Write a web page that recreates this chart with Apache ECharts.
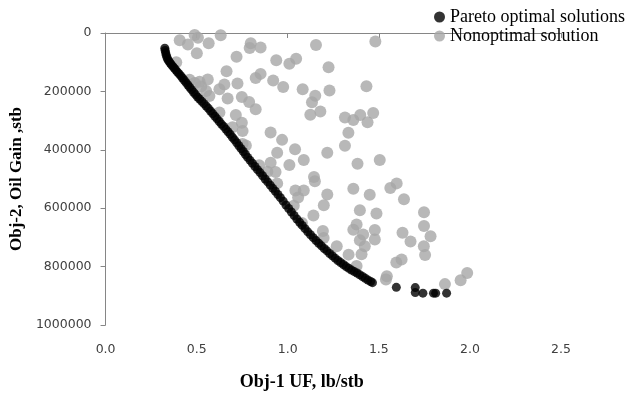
<!DOCTYPE html>
<html>
<head>
<meta charset="utf-8">
<script src="https://cdn.jsdelivr.net/npm/echarts@6/dist/echarts.min.js"></script>
<style>html,body{margin:0;padding:0;background:#fff;}#c{width:640px;height:396px;}</style>
</head>
<body>
<div id="c"></div>
<script>
// Series names
var seriesNames = ['Pareto optimal solutions', 'Nonoptimal solution'];
// Axis tick values
var xTicks = [0.0, 0.5, 1.0, 1.5, 2.0, 2.5];
var yTicks = [0, 200000, 400000, 600000, 800000, 1000000];

// Pareto optimal solutions [Obj-1 UF, Obj-2 Oil Gain]
var paretoData = [
[0.325,52000],[0.327,60000],[0.330,68000],[0.333,76000],[0.337,84000],[0.342,91000],[0.348,97000],[0.355,103000],
[0.362,109000],[0.370,115000],[0.378,121000],[0.386,127000],[0.395,134000],[0.404,140000],[0.413,147000],[0.422,154000],
[0.432,162000],[0.442,170000],[0.452,178000],[0.462,186000],[0.472,194000],[0.483,203000],[0.494,211000],[0.505,219000],
[0.516,226000],[0.528,234000],[0.540,242000],[0.552,250000],[0.564,258000],[0.576,267000],[0.588,276000],[0.600,285000],
[0.612,294000],[0.624,303000],[0.636,312000],[0.648,320000],[0.660,329000],[0.672,338000],[0.684,347000],[0.696,357000],
[0.708,366000],[0.720,376000],[0.732,386000],[0.744,396000],[0.756,406000],[0.768,416000],[0.780,426000],[0.793,436000],
[0.806,446000],[0.820,457000],[0.834,468000],[0.848,478000],[0.862,489000],[0.876,500000],[0.890,510000],[0.904,521000],
[0.918,532000],[0.932,542000],[0.946,553000],[0.960,564000],[0.975,576000],[0.990,589000],[1.005,601000],[1.020,613000],
[1.035,625000],[1.050,637000],[1.065,648000],[1.080,659000],[1.095,670000],[1.110,681000],[1.125,691000],[1.140,701000],
[1.155,711000],[1.170,720000],[1.185,729000],[1.200,738000],[1.215,746000],[1.230,755000],[1.245,763000],[1.260,771000],
[1.275,779000],[1.290,786000],[1.305,793000],[1.320,800000],[1.335,806000],[1.350,812000],[1.365,817000],[1.380,822000],
[1.395,828000],[1.410,834000],[1.425,840000],[1.440,846000],[1.455,851000],[1.465,855000],
[1.596,871000],[1.700,872000],[1.700,889000],[1.742,891000],[1.800,891000],[1.812,891000],[1.872,891000]
];

// Nonoptimal solutions [Obj-1 UF, Obj-2 Oil Gain]
var nonoptimalData = [
[0.407,25000],[0.452,39000],[0.489,7000],[0.507,16000],[0.566,35000],[0.632,8000],[0.501,69000],[0.719,81000],
[0.797,35000],[0.791,51000],[0.851,50000],[1.155,41000],[1.481,29000],[0.937,93000],[1.009,105000],[1.046,88000],
[1.224,117000],[0.664,131000],[0.824,154000],[0.851,140000],[0.920,163000],[0.975,185000],[0.724,173000],[0.652,176000],
[0.625,193000],[0.561,159000],[0.516,167000],[0.489,171000],[0.388,100000],[0.570,216000],[0.670,224000],[0.748,219000],
[0.788,236000],[0.824,261000],[0.715,281000],[0.748,307000],[0.697,323000],[0.752,336000],[0.625,272000],[1.082,193000],
[1.151,215000],[1.133,237000],[1.124,280000],[1.179,269000],[0.906,341000],[0.969,366000],[1.040,398000],[0.942,410000],
[0.752,380000],[1.229,197000],[1.432,182000],[1.314,289000],[1.360,298000],[1.398,281000],[1.438,306000],[1.469,274000],
[1.333,342000],[1.314,386000],[1.217,410000],[1.088,435000],[1.009,452000],[1.383,448000],[1.505,435000],[0.906,444000],
[0.888,475000],[0.933,476000],[0.843,453000],[0.942,515000],[1.144,493000],[1.149,508000],[1.042,539000],[1.088,539000],
[1.057,563000],[1.217,553000],[1.360,533000],[1.450,554000],[1.563,531000],[1.598,515000],[1.638,569000],[1.198,590000],
[1.396,607000],[1.487,618000],[1.748,614000],[1.141,625000],[1.378,656000],[1.360,674000],[1.478,675000],[1.748,661000],
[1.414,690000],[1.396,710000],[1.478,707000],[1.630,684000],[1.674,714000],[1.784,696000],[1.423,730000],[1.405,758000],
[1.747,730000],[1.754,760000],[1.269,730000],[1.334,759000],[1.378,798000],[1.596,786000],[1.625,776000],[1.544,833000],
[1.539,844000],[1.863,860000],[1.949,847000],[1.985,822000],[1.193,678000],[1.197,702000],[1.078,651000],[1.033,592000],
[0.770,385000],[0.525,183000],[0.461,160000],[0.552,199000]
];

var chart = echarts.init(document.getElementById('c'), null, {renderer: 'canvas'});
var tickFont = {fontFamily: '"DejaVu Sans", sans-serif', fontSize: 12.5, color: '#404040'};
var titleFont = {fontFamily: '"Liberation Serif", "Times New Roman", serif', fontSize: 17, fontWeight: 'bold', color: '#000'};
chart.setOption({
  animation: false,
  backgroundColor: '#fff',
  grid: {left: 102, top: 33, right: 79, bottom: 68, containLabel: false},
  legend: {
    orient: 'vertical', left: 429, top: 3, itemGap: 1, itemWidth: 11, itemHeight: 11,
    icon: 'circle',
    textStyle: {fontFamily: '"Liberation Serif", "Times New Roman", serif', fontSize: 18, color: '#000'},
    data: seriesNames
  },
  xAxis: {
    type: 'value', min: xTicks[0], max: xTicks[xTicks.length - 1], interval: 0.5,
    name: 'Obj-1 UF, lb/stb', nameLocation: 'middle', nameGap: 48,
    nameTextStyle: Object.assign({}, titleFont, {fontSize: 18, padding: [0, 63, 0, 0]}),
    axisLine: {lineStyle: {color: '#868686', width: 1}},
    axisTick: {show: true, inside: false, length: 5, lineStyle: {color: '#868686'}},
    axisLabel: Object.assign({}, tickFont, {margin: 18, formatter: function (v) { return v.toFixed(1); }}),
    splitLine: {show: false}
  },
  yAxis: {
    type: 'value', inverse: true, min: yTicks[0], max: yTicks[yTicks.length - 1], interval: 200000,
    name: 'Obj-2, Oil Gain ,stb', nameLocation: 'middle', nameGap: 76, nameRotate: 90,
    nameTextStyle: titleFont,
    axisLine: {show: true, lineStyle: {color: '#868686', width: 1}},
    axisTick: {show: true, inside: false, length: 5, lineStyle: {color: '#868686'}},
    axisLabel: Object.assign({}, tickFont, {margin: 14, formatter: function (v) { return String(v); }}),
    splitLine: {show: false}
  },
  series: [
    {
      name: seriesNames[0], type: 'scatter', data: paretoData, symbol: 'circle', symbolSize: 9, z: 3,
      itemStyle: {color: '#000000'}
    },
    {
      name: seriesNames[1], type: 'scatter', data: nonoptimalData, symbol: 'circle', symbolSize: 12, z: 2,
      itemStyle: {color: '#a6a6a6'}
    }
  ]
});
</script>
</body>
</html>
